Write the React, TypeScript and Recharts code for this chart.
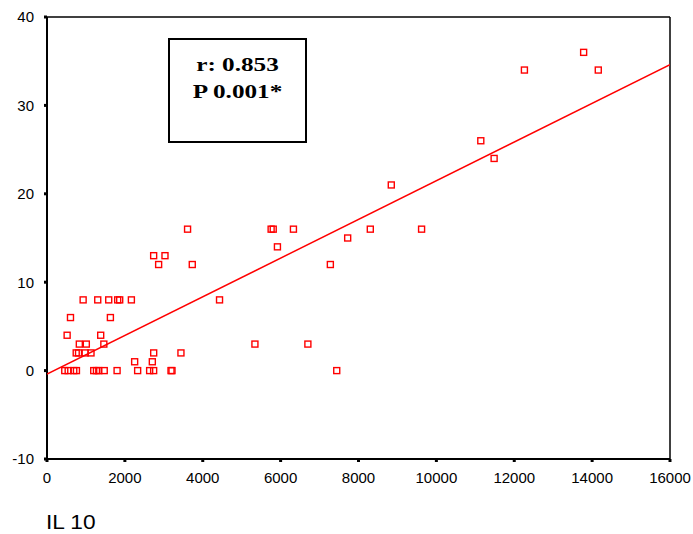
import React from 'react';
import { ScatterChart, Scatter, XAxis, YAxis, ReferenceLine } from 'recharts';

// IL 10 values (x) grouped by their y value
const il10 = [
  456, 544, 687, 756, 1200, 1270, 1330, 1470, 1800, 2328, 2636, 2739, 3185, 3210, 7441,
  2251, 2705,
  750, 810, 980, 1130, 2740, 3440,
  830, 1010, 1460, 5340, 6700,
  517, 1379,
  603, 1628,
  928, 1303, 1585, 1815, 1867, 2167, 4431,
  2867, 3731, 7277,
  2739, 3030,
  5918,
  7722,
  3610, 5756, 5810, 6329, 8303, 9620,
  8842,
  11483,
  11141,
  12261, 14158,
  13782,
];
const yVals = [
  0, 0, 0, 0, 0, 0, 0, 0, 0, 0, 0, 0, 0, 0, 0,
  1, 1,
  2, 2, 2, 2, 2, 2,
  3, 3, 3, 3, 3,
  4, 4,
  6, 6,
  8, 8, 8, 8, 8, 8, 8,
  12, 12, 12,
  13, 13,
  14,
  15,
  16, 16, 16, 16, 16, 16,
  21,
  24,
  26,
  34, 34,
  36,
];

const fitX = [0, 16000];
const fitY = [-0.4, 34.6];

const xTicks = [0, 2000, 4000, 6000, 8000, 10000, 12000, 14000, 16000];
const yTicks = [-10, 0, 10, 20, 30, 40];

const points = il10.map((x, i) => ({ x, y: yVals[i] }));
const fitLine = fitX.map((x, i) => ({ x, y: fitY[i] }));

const tickStyle = { fontFamily: '"Liberation Sans", Arial, sans-serif', fontSize: 15, fill: '#000' };

const HollowSquare = (props: any) => {
  const { cx, cy } = props;
  if (cx == null || cy == null) return null;
  return <rect x={cx - 3} y={cy - 3} width={6} height={6} fill="none" stroke="#ff0000" strokeWidth={1.4} />;
};

export default function App() {
  return (
    <div style={{ position: 'absolute', left: 0, top: 0, width: 693, height: 534, background: '#fff' }}>
      <ScatterChart width={693} height={534} margin={{ top: 17, right: 23, left: 0, bottom: 45 }}>
        <XAxis
          type="number"
          dataKey="x"
          domain={[0, 16000]}
          ticks={xTicks}
          height={30}
          tick={tickStyle}
          tickSize={3}
          tickMargin={10}
          tickLine={{ stroke: '#000', strokeWidth: 3 }}
          axisLine={{ stroke: '#000', strokeWidth: 2 }}
          allowDataOverflow
        />
        <YAxis
          type="number"
          dataKey="y"
          domain={[-10, 40]}
          ticks={yTicks}
          width={47}
          tick={tickStyle}
          tickSize={3}
          tickMargin={10}
          tickLine={{ stroke: '#000', strokeWidth: 3 }}
          axisLine={{ stroke: '#000', strokeWidth: 2 }}
          allowDataOverflow
        />
        <ReferenceLine y={40} stroke="#000" strokeWidth={1.5} />
        <ReferenceLine x={16000} stroke="#000" strokeWidth={1.5} />
        <Scatter data={fitLine} line={{ stroke: '#ff0000', strokeWidth: 1.5 }} shape={() => null} isAnimationActive={false} />
        <Scatter data={points} shape={HollowSquare} isAnimationActive={false} />
      </ScatterChart>
      <div
        style={{
          position: 'absolute', left: 168, top: 38, width: 135, height: 101,
          border: '2px solid #000', boxSizing: 'content-box',
        }}
      />
      <div
        style={{
          position: 'absolute', left: 168, top: 52, width: 139, textAlign: 'center',
          fontFamily: '"Liberation Serif", "Times New Roman", serif', fontWeight: 'bold',
          fontSize: 18, lineHeight: '27px', color: '#000',
          transform: 'scaleX(1.4)', transformOrigin: '50% 50%',
        }}
      >
        <div>r: 0.853</div>
        <div>P 0.001*</div>
      </div>
      <div
        style={{
          position: 'absolute', left: 46, top: 510,
          fontFamily: '"Liberation Sans", Arial, sans-serif', fontSize: 21, color: '#000',
          transform: 'scaleX(1.08)', transformOrigin: '0 50%',
        }}
      >
        IL 10
      </div>
    </div>
  );
}
